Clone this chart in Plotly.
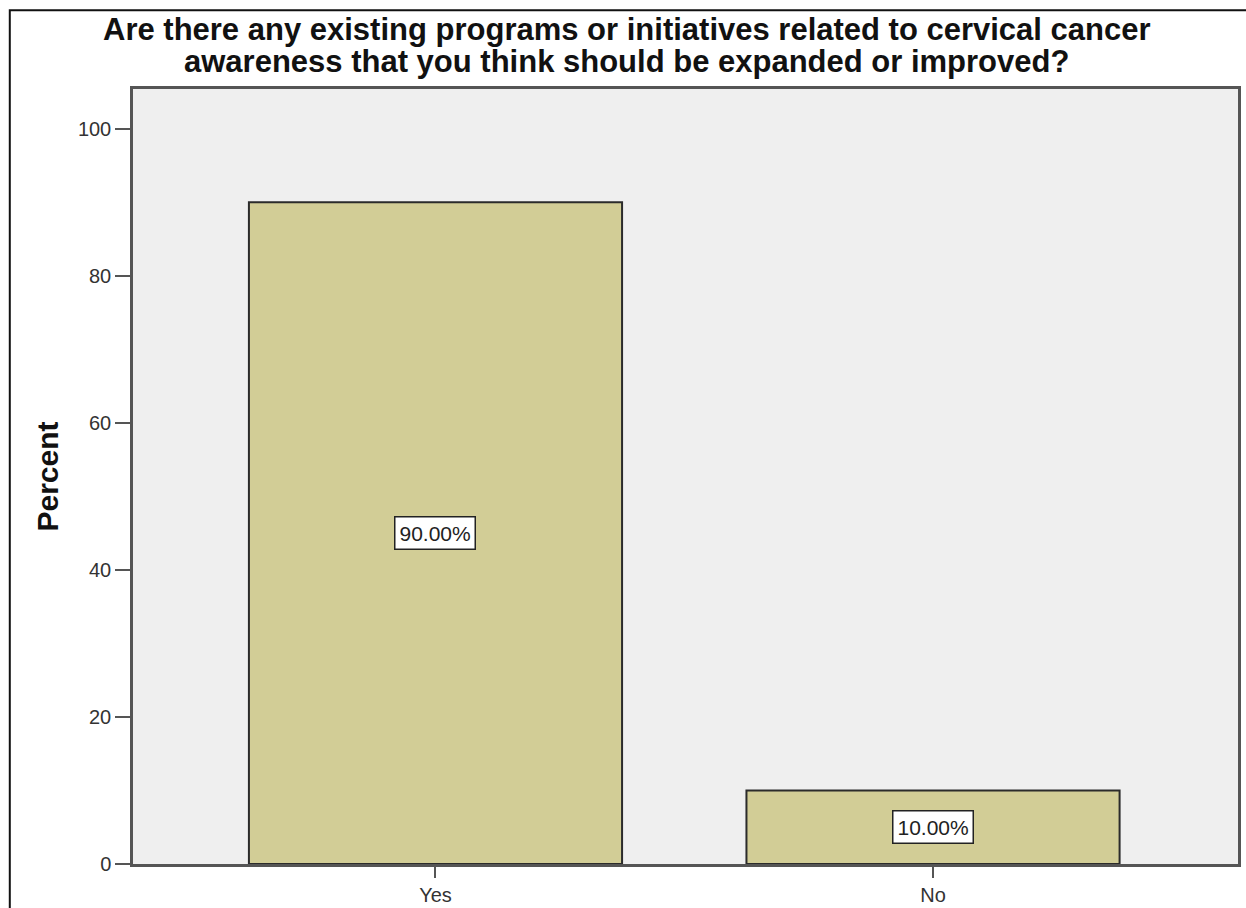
import plotly.graph_objects as go

categories = ["Yes", "No"]
percents = [90.0, 10.0]
value_labels = ["90.00%", "10.00%"]
y_ticks = [0, 20, 40, 60, 80, 100]
title_lines = [
    "Are there any existing programs or initiatives related to cervical cancer",
    "awareness that you think should be expanded or improved?",
]
y_title = "Percent"

BAR_FILL = "#D2CD96"
EDGE = "#2b2b2b"
AXIS = "#555555"
FONT = "Liberation Sans, Arial, sans-serif"

fig = go.Figure()
fig.add_trace(go.Bar(
    x=[0, 1],
    y=percents,
    width=0.75,
    marker=dict(color=BAR_FILL, line=dict(color=EDGE, width=2)),
    hoverinfo="skip",
))

# value boxes at mid-height of each bar
for i, (v, lab) in enumerate(zip(percents, value_labels)):
    fig.add_annotation(
        x=i, y=v / 2, xref="x", yref="y",
        text=lab, showarrow=False,
        font=dict(family=FONT, size=21, color="#222222"),
        bgcolor="white", bordercolor="#222222", borderwidth=1.5, borderpad=4,
    )

# two-line title
for j, line in enumerate(title_lines):
    fig.add_annotation(
        x=0.447, y=1.077 - j * 0.041, xref="paper", yref="paper",
        text=f"<b>{line}</b>", showarrow=False,
        xanchor="center", yanchor="middle",
        font=dict(family=FONT, size=31, color="#111111"),
    )

# rotated y-axis title
fig.add_annotation(
    x=-0.0778, y=0.5, xref="paper", yref="paper",
    text=f"<b>{y_title}</b>", showarrow=False, textangle=-90,
    xanchor="center", yanchor="middle",
    font=dict(family=FONT, size=30, color="#111111"),
)

# outer frame around the whole chart
fig.add_shape(
    type="rect", xref="paper", yref="paper",
    x0=-0.1115, x1=1.3, y0=-0.3, y1=1.1015,
    line=dict(color="#111111", width=2), fillcolor="rgba(0,0,0,0)", layer="below",
)

fig.update_layout(
    width=1246, height=908,
    margin=dict(l=133, r=8, t=89, b=44, autoexpand=False),
    paper_bgcolor="white",
    plot_bgcolor="#EFEFEF",
    showlegend=False,
    font=dict(family=FONT, color="#333333"),
    xaxis=dict(
        range=[-0.608, 1.613], automargin=False,
        tickmode="array", tickvals=[0, 1], ticktext=categories,
        ticks="outside", ticklen=11, tickcolor=AXIS, tickwidth=2,
        tickfont=dict(size=20, color="#333333"),
        showgrid=False, zeroline=False,
        showline=True, linecolor=AXIS, linewidth=2.5, mirror=True,
    ),
    yaxis=dict(
        range=[0, 105.4], automargin=False,
        tickmode="array", tickvals=y_ticks,
        ticks="outside", ticklen=15, tickcolor=AXIS, tickwidth=2,
        tickfont=dict(size=20, color="#333333"),
        showgrid=False, zeroline=False,
        showline=True, linecolor=AXIS, linewidth=2.5, mirror=True,
    ),
)

fig.write_html("out.html")
